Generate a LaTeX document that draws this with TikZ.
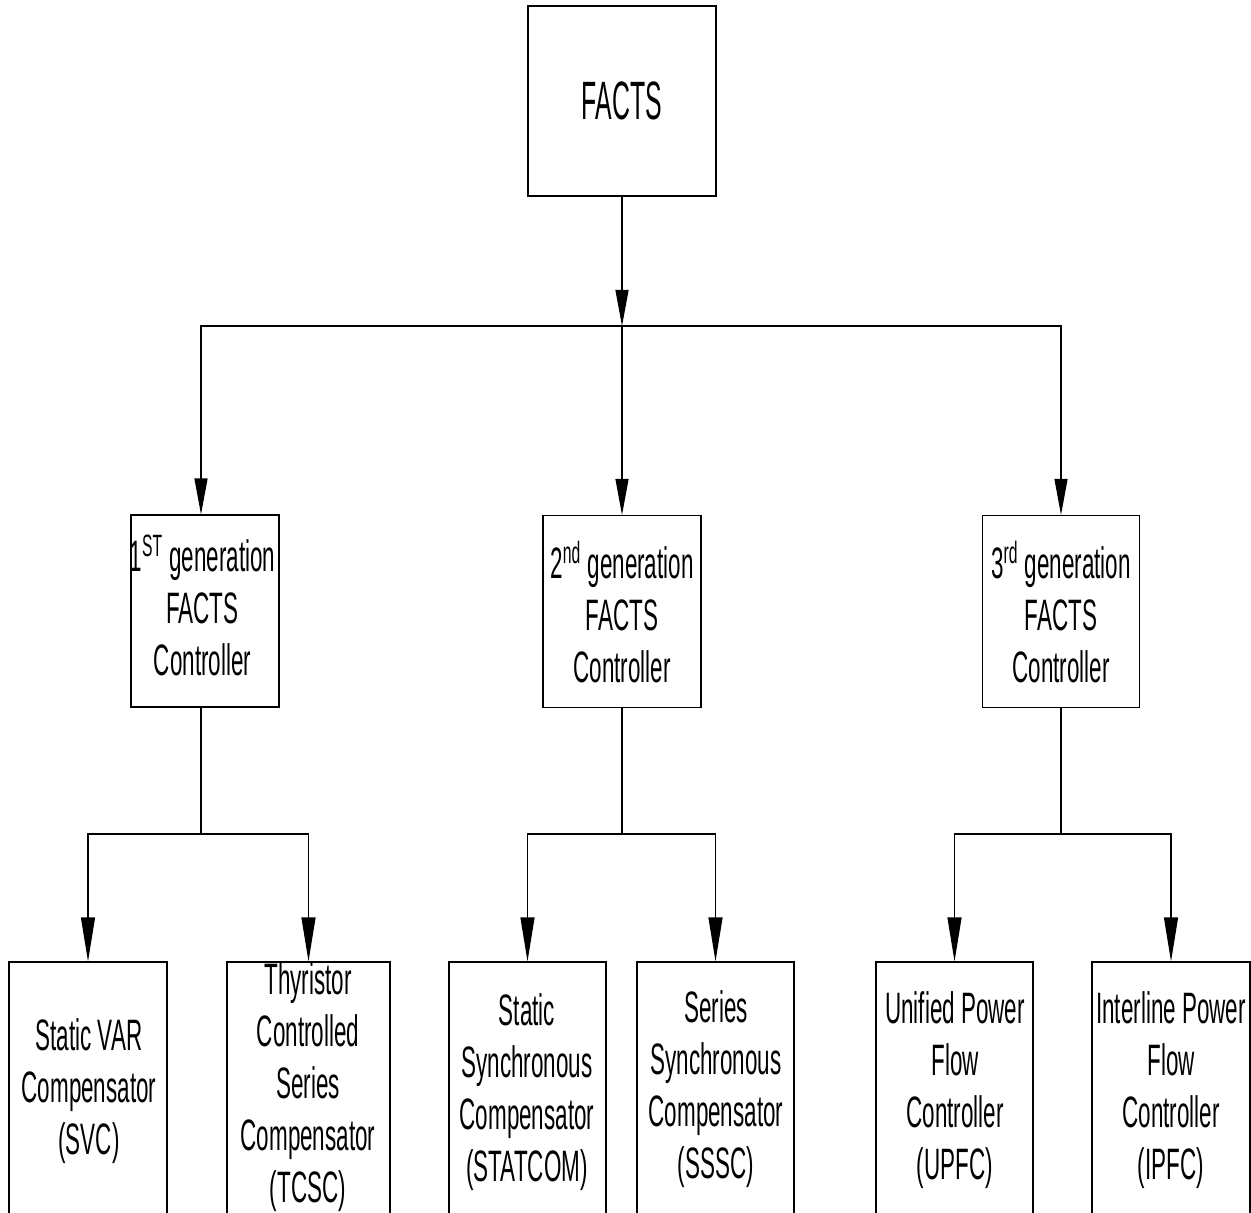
\documentclass[tikz,border=0pt]{standalone}
\usepackage{fontspec}
\setmainfont{Liberation Sans}[FakeStretch=0.51]
\newfontfamily\topfont{Liberation Sans}[FakeStretch=0.46]
\usetikzlibrary{arrows.meta}
\begin{document}
\begin{tikzpicture}[x=0.5pt,y=-0.5pt,
  box/.style={draw, line width=0.6pt, rectangle, inner sep=0pt},
  txt/.style={inner sep=0pt, align=center, anchor=north, font=\fontsize{22}{26}\selectfont},
  ln/.style={line width=0.6pt},
  arr/.style={ln, -{Triangle[length=18pt,width=6.5pt]}},
  arrb/.style={ln, -{Triangle[length=22pt,width=7pt]}}]
\path[use as bounding box] (0,0) rectangle (1251,1213);
\clip (0,0) rectangle (1251,1213);
\fill[white] (0,0) rectangle (1251,1213);
% top
\node[box, minimum width=94pt, minimum height=95pt, font=\topfont\fontsize{27}{31}\selectfont] (top) at (622,101) {FACTS};
% generation boxes
\node[box, minimum width=74pt, minimum height=96pt] (g1) at (205,611) {};
\node[box, minimum width=79pt, minimum height=96pt] (g2) at (622,611.5) {};
\node[box, minimum width=78.5pt, minimum height=96pt] (g3) at (1061,611.5) {};
\node[txt] (g1t) at (202.5,535) {1\textsuperscript{ST} generation\\FACTS\\Controller};
\node[txt] (g2t) at (622,541) {2\textsuperscript{nd} generation\\FACTS\\Controller};
\node[txt] (g3t) at (1061,541) {3\textsuperscript{rd} generation\\FACTS\\Controller};
% bottom boxes
\node[box, minimum width=79pt, minimum height=139pt] (svc) at (88,1101) {};
\node[box, minimum width=81.5pt, minimum height=139pt] (tcsc) at (308.5,1101) {};
\node[box, minimum width=78.5pt, minimum height=139pt] (statcom) at (527.5,1101) {};
\node[box, minimum width=78.5pt, minimum height=139pt] (sssc) at (715.5,1101) {};
\node[box, minimum width=78.5pt, minimum height=139pt] (upfc) at (954.5,1101) {};
\node[box, minimum width=79pt, minimum height=139pt] (ipfc) at (1171,1101) {};
\node[txt] (svct) at (89,1018) {Static VAR\\Compensator\\(SVC)};
\node[txt] (tcsct) at (308,962) {Thyristor\\Controlled\\Series\\Compensator\\(TCSC)};
\node[txt] (statcomt) at (527,993) {Static\\Synchronous\\Compensator\\(STATCOM)};
\node[txt] (sssct) at (716,990) {Series\\Synchronous\\Compensator\\(SSSC)};
\node[txt] (upfct) at (955,991) {Unified Power\\Flow\\Controller\\(UPFC)};
\node[txt] (ipfct) at (1171,991) {Interline Power\\Flow\\Controller\\(IPFC)};
% connectors, level 1
\coordinate (jt) at (622,326);
\coordinate (jl) at (201,326);
\coordinate (jr) at (1061,326);
\draw[arr] (top.south) -- (jt);
\draw[arr] (jt) -| (jl |- g1.north);
\draw[arr] (jt) -- (g2.north);
\draw[arr] (jt) -| (jr |- g3.north);
% connectors, level 2
\coordinate (b1) at (201,834);
\coordinate (b2) at (622,834);
\coordinate (b3) at (1061,834);
\draw[ln] (b1 |- g1.south) -- (b1);
\draw[ln] (g2.south) -- (b2);
\draw[ln] (g3.south) -- (b3);
\draw[arrb] (b1) -| (svc.north);
\draw[arrb] (b1) -| (tcsc.north);
\draw[arrb] (b2) -| (statcom.north);
\draw[arrb] (b2) -| (sssc.north);
\draw[arrb] (b3) -| (upfc.north);
\draw[arrb] (b3) -| (ipfc.north);
\end{tikzpicture}
\end{document}
